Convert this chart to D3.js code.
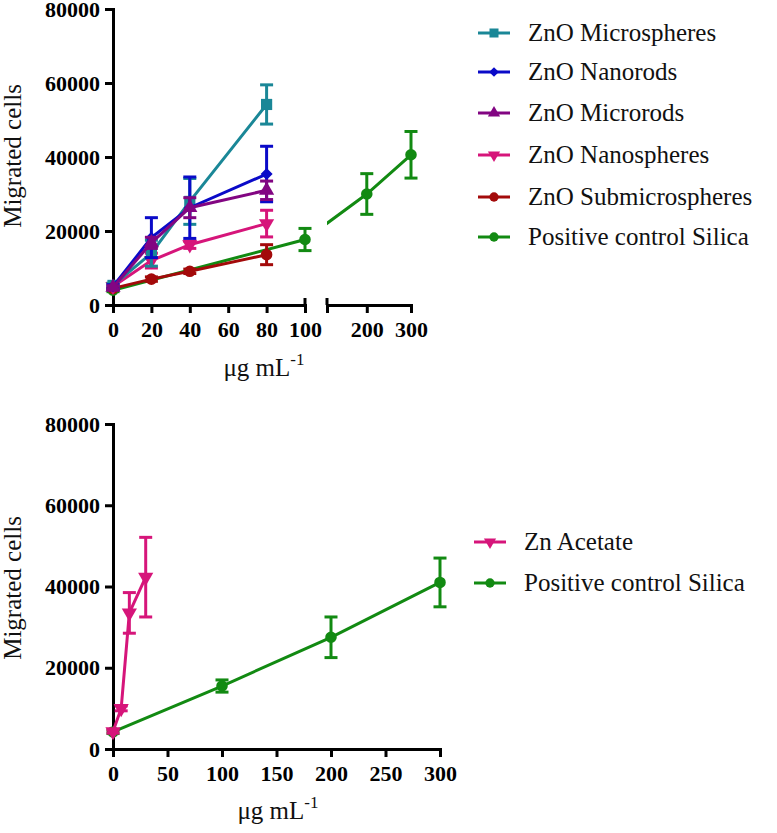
<!DOCTYPE html>
<html><head><meta charset="utf-8">
<script src="https://cdn.jsdelivr.net/npm/d3@7"></script>
<style>body{margin:0;background:#fff}svg{display:block}</style>
</head><body>
<script>
// ---------- data ----------
const yTicks = [0, 20000, 40000, 60000, 80000];
const topTicksA = [0, 20, 40, 60, 80, 100];
const topTicksB = [110, 200, 300];
const bottomTicks = [0, 50, 100, 150, 200, 250, 300];

const topDoses = [0, 20, 40, 80];
const silicaDoses = [0, 100, 200, 300];
const acetateDoses = [0, 7.5, 15, 30];

const microspheresMean = [5300, 14000, 28000, 54200];
const microspheresErr  = [600, 3500, 6200, 5300];
const nanorodsMean = [5000, 18200, 26300, 35400];
const nanorodsErr  = [500, 5400, 8300, 7500];
const microrodsMean = [4800, 16800, 26300, 31000];
const microrodsErr  = [400, 1500, 2700, 2500];
const nanospheresMean = [5000, 12000, 16300, 22000];
const nanospheresErr  = [500, 2000, 1000, 3600];
const submicroMean = [4500, 7000, 9100, 13600];
const submicroErr  = [300, 600, 600, 2700];
const silicaTopMean = [4000, 17700, 30000, 40600];
const silicaTopErr  = [400, 3000, 5500, 6300];

const acetateMean = [4300, 10000, 33500, 42300];
const acetateErr  = [400, 600, 5000, 9800];
const silicaBottomMean = [4200, 15500, 27500, 41000];
const silicaBottomErr  = [400, 1500, 5000, 6000];

const topNames = ["ZnO Microspheres", "ZnO Nanorods", "ZnO Microrods", "ZnO Nanospheres", "ZnO Submicrospheres", "Positive control Silica"];
const bottomNames = ["Zn Acetate", "Positive control Silica"];

// ---------- styles ----------
const C = {teal:"#1a8797", blue:"#0a0ac8", purple:"#820582", pink:"#d6157a", red:"#a30a0a", green:"#128a12"};
const FONT = "Liberation Serif";

const zip = (xs, ms, es) => xs.map((x, i) => ({x, y: ms[i], e: es[i]}));
const topSeries = [
  {name: topNames[5], color: C.green, shape: "circle", data: zip(silicaDoses, silicaTopMean, silicaTopErr)},
  {name: topNames[4], color: C.red, shape: "circle", data: zip(topDoses, submicroMean, submicroErr)},
  {name: topNames[3], color: C.pink, shape: "tdown", data: zip(topDoses, nanospheresMean, nanospheresErr)},
  {name: topNames[0], color: C.teal, shape: "square", data: zip(topDoses, microspheresMean, microspheresErr)},
  {name: topNames[1], color: C.blue, shape: "diamond", data: zip(topDoses, nanorodsMean, nanorodsErr)},
  {name: topNames[2], color: C.purple, shape: "tup", data: zip(topDoses, microrodsMean, microrodsErr)},
];
const topLegend = [
  {name: topNames[0], color: C.teal, shape: "square"},
  {name: topNames[1], color: C.blue, shape: "diamond"},
  {name: topNames[2], color: C.purple, shape: "tup"},
  {name: topNames[3], color: C.pink, shape: "tdown"},
  {name: topNames[4], color: C.red, shape: "circle"},
  {name: topNames[5], color: C.green, shape: "circle"},
];
const bottomSeries = [
  {name: bottomNames[1], color: C.green, shape: "circle", data: zip(silicaDoses, silicaBottomMean, silicaBottomErr)},
  {name: bottomNames[0], color: C.pink, shape: "tdown", data: zip(acetateDoses, acetateMean, acetateErr)},
];
const bottomLegend = [
  {name: bottomNames[0], color: C.pink, shape: "tdown"},
  {name: bottomNames[1], color: C.green, shape: "circle"},
];

const svg = d3.select("body").append("svg").attr("width", 777).attr("height", 833);

function markerPath(shape, s) {
  s = s || 1;
  if (shape === "square") return d3.symbol(d3.symbolSquare, 125 * s)();
  if (shape === "circle") return d3.symbol(d3.symbolCircle, 105 * s)();
  if (shape === "diamond") { const r = 6 * Math.sqrt(s); return `M0,${-r}L${r},0L0,${r}L${-r},0Z`; }
  if (shape === "tup") return d3.symbol(d3.symbolTriangle, 100 * s)();
  if (shape === "tdown") return d3.symbol(d3.symbolTriangle, 100 * s)();
}
function markerRot(shape) { return shape === "tdown" ? " rotate(180)" : ""; }

function styleAxis(g) {
  g.attr("font-family", FONT);
  g.select(".domain").attr("stroke", "#000").attr("stroke-width", 3).attr("stroke-linecap", "square");
  g.selectAll(".tick line").attr("stroke", "#000").attr("stroke-width", 3);
  g.selectAll(".tick text").attr("fill", "#000").attr("font-family", FONT)
    .attr("font-weight", "bold").attr("font-size", 22);
}

function drawSeries(g, series, x, y, clipId) {
  const line = d3.line().x(d => x(d.x)).y(d => y(d.y));
  series.forEach(s => {
    const sg = g.append("g");
    sg.append("path").attr("d", line(s.data)).attr("fill", "none")
      .attr("stroke", s.color).attr("stroke-width", 3)
      .attr("clip-path", clipId ? `url(#${clipId})` : null);
    s.data.forEach(d => {
      if (d.e > 0) {
        const cx = x(d.x), y1 = y(d.y + d.e), y2 = y(d.y - d.e);
        sg.append("line").attr("x1", cx).attr("x2", cx).attr("y1", y1).attr("y2", y2)
          .attr("stroke", s.color).attr("stroke-width", 3);
        [y1, y2].forEach(yy => sg.append("line").attr("x1", cx - 6.5).attr("x2", cx + 6.5)
          .attr("y1", yy).attr("y2", yy).attr("stroke", s.color).attr("stroke-width", 3));
      }
      sg.append("path").attr("d", markerPath(s.shape))
        .attr("transform", `translate(${x(d.x)},${y(d.y)})${markerRot(s.shape)}`)
        .attr("fill", s.color);
    });
  });
}

function drawLegend(items, x0, ys) {
  items.forEach((it, i) => {
    const g = svg.append("g").attr("transform", `translate(${x0},${ys[i]})`);
    g.append("line").attr("x1", 0).attr("x2", 32).attr("y1", 0).attr("y2", 0)
      .attr("stroke", it.color).attr("stroke-width", 3);
    g.append("path").attr("d", markerPath(it.shape, 0.65))
      .attr("transform", `translate(16,0)${markerRot(it.shape)}`).attr("fill", it.color);
    g.append("text").attr("x", 50).attr("y", 0).attr("dy", "0.33em")
      .attr("font-family", FONT).attr("font-size", 25).attr("fill", "#111").text(it.name);
  });
}

function yTitle(cy) {
  svg.append("text").attr("transform", `translate(21,${cy}) rotate(-90)`)
    .attr("text-anchor", "middle").attr("font-family", FONT).attr("font-size", 25)
    .attr("fill", "#111").text("Migrated cells");
}
function xTitle(cx, by) {
  const t = svg.append("text").attr("x", cx).attr("y", by).attr("text-anchor", "middle")
    .attr("font-family", FONT).attr("font-size", 25).attr("fill", "#111");
  t.append("tspan").text("μg mL");
  t.append("tspan").attr("dy", -11).attr("font-size", 17).text("-1");
}

// ---------- top chart ----------
const yTop = d3.scaleLinear().domain([0, 80000]).range([305, 9]);
const xTopA = d3.scaleLinear().domain([0, 100]).range([113, 305]);
const xTopB = d3.scaleLinear().domain([110, 300]).range([327, 411]);
const xTop = d3.scaleLinear().domain([0, 100, 110, 300]).range([113, 305, 327, 411]);

const defs = svg.append("defs");
const cp = defs.append("clipPath").attr("id", "gapclip");
cp.append("rect").attr("x", 0).attr("y", 0).attr("width", xTopA.range()[1]).attr("height", 833);
cp.append("rect").attr("x", xTopB.range()[0]).attr("y", 0).attr("width", 450).attr("height", 833);

const gyTop = svg.append("g").attr("transform", "translate(113,0)")
  .call(d3.axisLeft(yTop).tickValues(yTicks).tickSize(8).tickSizeOuter(0).tickPadding(5).tickFormat(d3.format("d")));
styleAxis(gyTop);

const gxA = svg.append("g").attr("transform", "translate(0,305)")
  .call(d3.axisBottom(xTopA).tickValues(topTicksA).tickSize(8).tickSizeOuter(0).tickPadding(8));
styleAxis(gxA);
const gxB = svg.append("g").attr("transform", "translate(0,305)")
  .call(d3.axisBottom(xTopB).tickValues(topTicksB).tickSize(8).tickSizeOuter(0).tickPadding(8)
    .tickFormat(d => d === 110 ? "" : d));
styleAxis(gxB);
[xTopA(100), xTopB(110)].forEach(px => svg.append("line").attr("x1", px).attr("x2", px)
  .attr("y1", 298).attr("y2", 305).attr("stroke", "#000").attr("stroke-width", 3));

drawSeries(svg.append("g"), topSeries, xTop, yTop, "gapclip");
yTitle(156);
xTitle(264, 376);
drawLegend(topLegend, 478, [33, 72, 113, 155, 197, 237]);

// ---------- bottom chart ----------
const yBot = d3.scaleLinear().domain([0, 80000]).range([749, 424]);
const xBot = d3.scaleLinear().domain([0, 300]).range([113, 440]);

const gyBot = svg.append("g").attr("transform", "translate(113,0)")
  .call(d3.axisLeft(yBot).tickValues(yTicks).tickSize(8).tickSizeOuter(0).tickPadding(5).tickFormat(d3.format("d")));
styleAxis(gyBot);
const gxBot = svg.append("g").attr("transform", "translate(0,749)")
  .call(d3.axisBottom(xBot).tickValues(bottomTicks).tickSize(8).tickSizeOuter(0).tickPadding(8));
styleAxis(gxBot);

drawSeries(svg.append("g"), bottomSeries, xBot, yBot, null);
yTitle(588);
xTitle(278, 819);
drawLegend(bottomLegend, 474, [542, 583]);
</script>
</body></html>
